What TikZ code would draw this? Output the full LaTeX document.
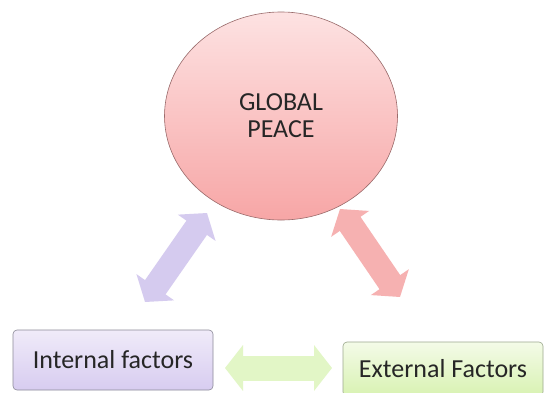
\documentclass[tikz,border=0pt]{standalone}
\usepackage{fontspec}
\setmainfont{Carlito}
\usetikzlibrary{shapes.geometric,arrows.meta}
\definecolor{txt}{HTML}{262626}
\tikzset{
  peace/.style={ellipse, minimum width=233pt, minimum height=208pt, inner sep=0pt,
    top color=pinktop, bottom color=pinkbot, draw=pinkedge, line width=0.6pt,
    align=center, text=txt, font=\fontsize{26}{27}\selectfont},
  factor/.style={rectangle, rounded corners=4pt, minimum width=200pt, inner sep=0pt,
    line width=0.6pt, text=txt, font=\fontsize{26}{30}\selectfont},
  fatarrow/.style={line width=25pt,
    {Triangle[length=18pt,width=45pt]}-{Triangle[length=18pt,width=45pt]}}
}
\definecolor{pinktop}{HTML}{FDE2E2}
\definecolor{pinkbot}{HTML}{F7A6A6}
\definecolor{pinkedge}{HTML}{9A6B6B}
\definecolor{purtop}{HTML}{F0EBF9}
\definecolor{purbot}{HTML}{D7CCF0}
\definecolor{puredge}{HTML}{8C8A98}
\definecolor{grntop}{HTML}{F4FBE8}
\definecolor{grnbot}{HTML}{D8F2B2}
\definecolor{grnedge}{HTML}{9CA88E}
\definecolor{arrpur}{HTML}{D5CBEF}
\definecolor{arrpink}{HTML}{F6B1B1}
\definecolor{arrgrn}{HTML}{E2F6C6}
\begin{document}
\begin{tikzpicture}[x=1pt,y=-1pt]
\useasboundingbox (0,0) rectangle (546,392);
\fill[white] (0,0) rectangle (546,392);
\node[peace] (gp) at (281,116) {GLOBAL\\PEACE};
\node[factor, minimum height=60pt, top color=purtop, bottom color=purbot, draw=puredge] (int) at (113,360) {Internal factors};
\node[factor, minimum height=54pt, top color=grntop, bottom color=grnbot, draw=grnedge] (ext) at (443,369) {External Factors};
\coordinate (pu1) at (207,213);
\coordinate (pu2) at (145,302);
\coordinate (pk1) at (340,209);
\coordinate (pk2) at (400,297);
\coordinate (g1) at (225,368);
\coordinate (g2) at (332,368);
\draw[fatarrow, arrpur] (pu1) -- (pu2);
\draw[fatarrow, arrpink] (pk1) -- (pk2);
\draw[fatarrow, arrgrn] (g1) -- (g2);
\end{tikzpicture}
\end{document}
